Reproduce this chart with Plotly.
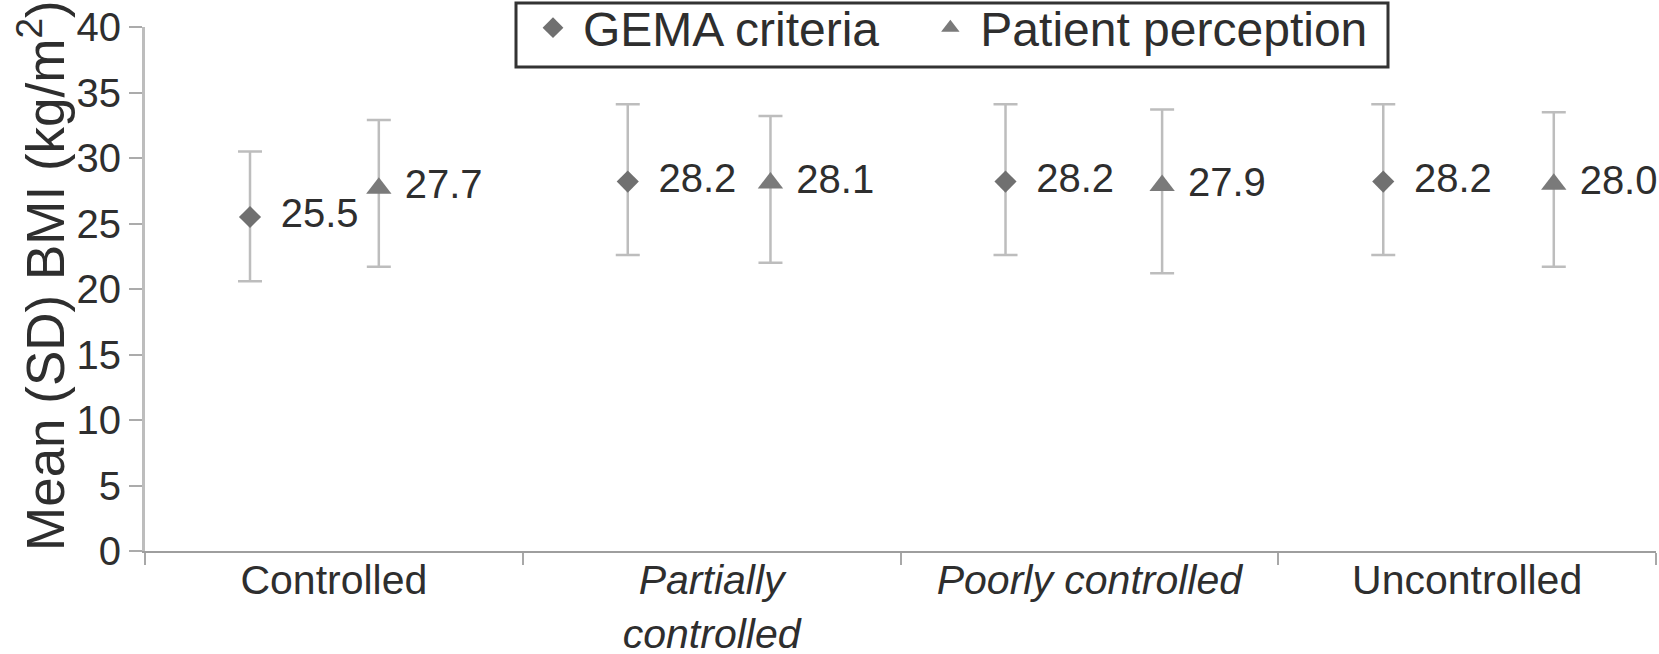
import plotly.graph_objects as go

# ---- data ----
categories = ["Controlled", "<i>Partially<br>controlled</i>", "<i>Poorly controlled</i>", "Uncontrolled"]
gema_mean = [25.5, 28.2, 28.2, 28.2]
gema_upper = [30.5, 34.1, 34.1, 34.1]
gema_lower = [20.6, 22.6, 22.6, 22.6]
patient_mean = [27.7, 28.1, 27.9, 28.0]
patient_upper = [32.9, 33.2, 33.7, 33.5]
patient_lower = [21.7, 22.0, 21.2, 21.7]
y_ticks = [0, 5, 10, 15, 20, 25, 30, 35, 40]

# ---- layout geometry (pixels) ----
W, H = 1659, 654
ML, MR, MT, MB = 145, 3, 27, 103
PW, PH = W - ML - MR, H - MT - MB


def px_x(p):
    return (p - ML) / PW


def px_y(p):
    return (H - MB - p) / PH


FONT = "Liberation Sans, Arial, Helvetica, sans-serif"
TXT = "#2e2e2e"
NB = "\u00a0"
idx = list(range(len(categories)))

fig = go.Figure()
fig.add_trace(go.Scatter(
    x=[i - 0.222 for i in idx], y=gema_mean, name="GEMA criteria" + NB * 2 + "\u2009",
    mode="markers+text",
    marker=dict(symbol="diamond", size=17, color="#707070"),
    error_y=dict(type="data", symmetric=False,
                 array=[u - m for u, m in zip(gema_upper, gema_mean)],
                 arrayminus=[m - l for m, l in zip(gema_mean, gema_lower)],
                 color="#bdbdbd", thickness=2.5, width=12),
    text=[f"{v:.1f}" for v in gema_mean],
    texttemplate=NB + "\u2009%{text}",
    textposition="middle right",
    textfont=dict(size=40, color=TXT, family=FONT),
    cliponaxis=False,
))
fig.add_trace(go.Scatter(
    x=idx, y=patient_mean, name="Patient perception", xaxis="x2",
    mode="markers+text",
    marker=dict(symbol="triangle-up", size=22, color="#7a7a7a"),
    error_y=dict(type="data", symmetric=False,
                 array=[u - m for u, m in zip(patient_upper, patient_mean)],
                 arrayminus=[m - l for m, l in zip(patient_mean, patient_lower)],
                 color="#bdbdbd", thickness=2.5, width=12),
    text=[f"{v:.1f}" for v in patient_mean],
    texttemplate=NB + "%{text}",
    textposition="middle right",
    textfont=dict(size=40, color=TXT, family=FONT),
    cliponaxis=False,
))

fig.update_layout(
    width=W, height=H,
    margin=dict(l=ML, r=MR, t=MT, b=MB, autoexpand=False),
    paper_bgcolor="white", plot_bgcolor="white",
    font=dict(family=FONT, color=TXT),
    showlegend=True,
    legend=dict(orientation="h", x=px_x(523), xanchor="left",
                y=px_y(-10), yanchor="top",
                bgcolor="rgba(0,0,0,0)", borderwidth=0,
                font=dict(size=48, color=TXT, family=FONT),
                itemwidth=50, itemsizing="trace"),
    xaxis=dict(range=[-0.5, 3.5], tickmode="array", tickvals=idx,
               ticktext=categories, ticks="", showgrid=False, zeroline=False,
               showline=True, linecolor="#9e9e9e", linewidth=2,
               tickfont=dict(size=41, color=TXT, family=FONT),
               ticklabelstandoff=-8, automargin=False,
               minor=dict(tickmode="array", tickvals=[-0.5, 0.5, 1.5, 2.5, 3.5],
                          ticks="outside", ticklen=12, tickwidth=2, tickcolor="#a8a8a8",
                          showgrid=False),
               fixedrange=True),
    xaxis2=dict(overlaying="x", range=[-0.597, 3.261], visible=False, fixedrange=True),
    yaxis=dict(range=[0, 40], tickmode="array", tickvals=y_ticks,
               ticks="outside", ticklen=13, tickwidth=2, tickcolor="#ababab",
               showgrid=False, zeroline=False, showline=True,
               linecolor="#bdbdbd", linewidth=3, automargin=False,
               tickfont=dict(size=40, color=TXT, family=FONT),
               fixedrange=True),
    shapes=[dict(type="rect", xref="paper", yref="paper",
                 x0=px_x(516), x1=px_x(1388), y0=px_y(67), y1=px_y(3),
                 line=dict(color="#333333", width=3), fillcolor="rgba(0,0,0,0)")],
    annotations=[dict(text="Mean (SD) BMI (kg/m<sup>2</sup>)", textangle=-90,
                      xref="paper", yref="paper", x=px_x(41), y=px_y(276),
                      xanchor="center", yanchor="middle", showarrow=False,
                      font=dict(size=53, color=TXT, family=FONT))],
)

fig.write_html("out.html", config={"displayModeBar": False},
               post_script="document.body.style.margin='0px';document.body.style.overflow='hidden';")
